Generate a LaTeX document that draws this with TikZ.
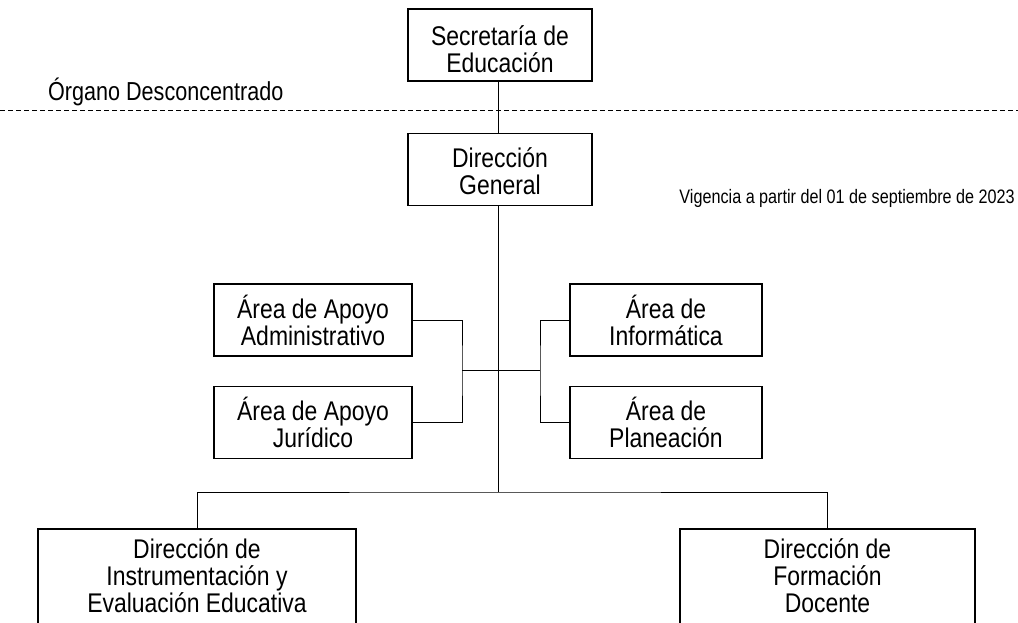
\documentclass[tikz,border=0pt]{standalone}
\usepackage{fontspec}
\setmainfont[FakeStretch=0.83]{Liberation Sans}
\newfontfamily\boxfont[FakeStretch=0.85]{Liberation Sans}
\begin{document}
\begin{tikzpicture}[x=1pt,y=-1pt,
  box/.style={draw,line width=1.6pt,inner sep=0pt,align=center,
    font=\boxfont\fontsize{27}{27}\selectfont,text depth=0pt,text height=50pt},
  txt/.style={inner sep=0pt,align=center,font=\boxfont\fontsize{27}{27}\selectfont,
    text depth=0pt,text height=54pt},
  frame/.style={draw,line width=1.6pt,inner sep=0pt,anchor=north,minimum height=130},
  conn/.style={line width=0.9pt}]
\useasboundingbox (0,0) rectangle (1018,623);
\clip (0,0) rectangle (1018,623);
% top
\node[box,minimum width=184,minimum height=72,text height=55pt] (sec) at (500,45) {Secretaría de\\Educación};
\node[box,minimum width=184,minimum height=72] (dg) at (500,169.5) {Dirección\\General};
\coordinate (dl) at (0,110);
\coordinate (dr) at (1018,110);
\draw[conn,dashed,dash pattern=on 5pt off 3pt] (dl) -- (dr);
\node[inner sep=0pt,anchor=base west,font=\fontsize{26}{26}\selectfont] (org) at (48,101) {Órgano Desconcentrado};
\node[inner sep=0pt,anchor=base east,font=\fontsize{19.5}{20}\selectfont] (vig) at (1015,204) {Vigencia a partir del 01 de septiembre de 2023};
% middle
\node[box,minimum width=198,minimum height=72] (adm) at (313,320) {Área de Apoyo\\Administrativo};
\node[box,minimum width=198,minimum height=72] (jur) at (313,422.5) {Área de Apoyo\\Jurídico};
\node[box,minimum width=192,minimum height=72] (inf) at (666,320) {Área de\\Informática};
\node[box,minimum width=192,minimum height=72] (pla) at (666,422.5) {Área de\\Planeación};
% bottom boxes (extend beyond the lower edge)
\node[frame,minimum width=318] (insbox) at (197,528) {};
\node[txt] (ins) at (197,585) {Dirección de\\Instrumentación y\\Evaluación Educativa};
\node[frame,minimum width=295] (forbox) at (827.5,528) {};
\node[txt] (for) at (827.5,585) {Dirección de\\Formación\\Docente};
% connectors
\coordinate (lb) at (462,370);
\coordinate (rb) at (540,370);
\coordinate (bot) at (498,492);
\coordinate (dgb) at (498,206);
\draw[conn] (sec.south -| dgb) -- (dg.north -| dgb);
\draw[conn] (dgb) -- (bot);
\draw[conn] (adm.east) -| (lb) |- (jur.east);
\draw[conn] (inf.west) -| (rb) |- (pla.west);
\draw[conn] (lb) -- (rb);
\draw[conn] (insbox.north) |- (bot) -| (forbox.north);
\end{tikzpicture}
\end{document}
